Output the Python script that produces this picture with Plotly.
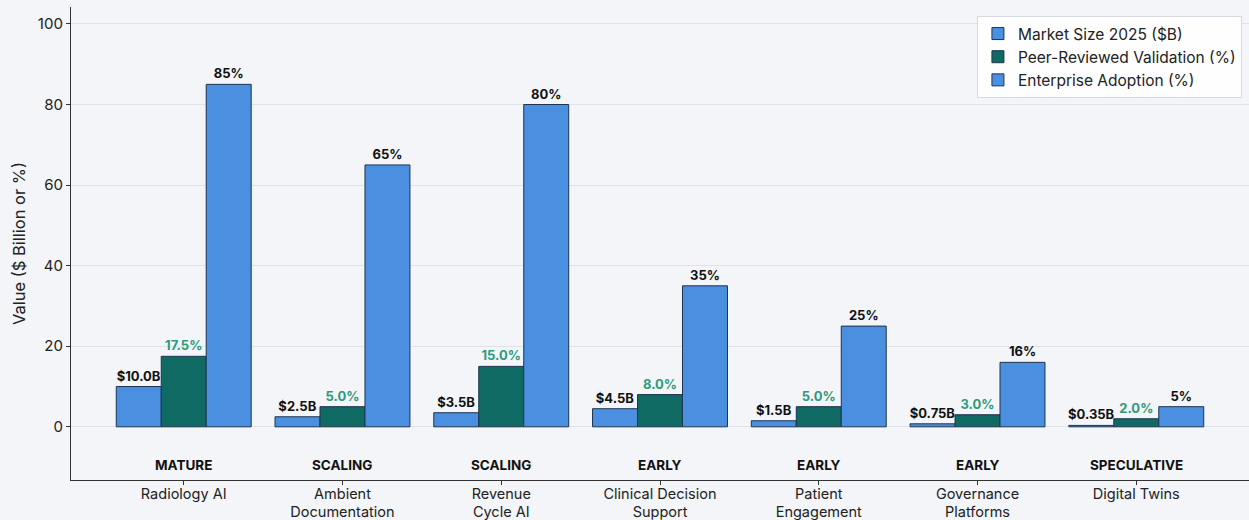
import plotly.graph_objects as go

categories = ["Radiology AI", "Ambient<br>Documentation", "Revenue<br>Cycle AI",
              "Clinical Decision<br>Support", "Patient<br>Engagement",
              "Governance<br>Platforms", "Digital Twins"]
stages = ["MATURE", "SCALING", "SCALING", "EARLY", "EARLY", "EARLY", "SPECULATIVE"]
market_size = [10.0, 2.5, 3.5, 4.5, 1.5, 0.75, 0.35]
validation = [17.5, 5.0, 15.0, 8.0, 5.0, 3.0, 2.0]
adoption = [85, 65, 80, 35, 25, 16, 5]

BLUE = "#4A8FE0"
TEAL = "#0E6A62"
EDGE = "#1E3550"
GREEN_TXT = "#2F9A7A"
FONT = "Inter"

x = list(range(len(categories)))

series = [
    ("Market Size 2025 ($B)", market_size, BLUE, [f"${v}B" for v in market_size], "#111111"),
    ("Peer-Reviewed Validation (%)", validation, TEAL, [f"{v:.1f}%" for v in validation], GREEN_TXT),
    ("Enterprise Adoption (%)", adoption, BLUE, [f"{v:.0f}%" for v in adoption], "#111111"),
]

fig = go.Figure()
for name, vals, color, labels, txt_color in series:
    fig.add_trace(go.Bar(
        x=x, y=vals, name=name,
        marker=dict(color=color, line=dict(color=EDGE, width=1)),
        text=labels, textposition="outside",
        textfont=dict(family=FONT, size=13, color=txt_color, weight="bold"),
        constraintext="none", cliponaxis=False,
    ))

for i, s in enumerate(stages):
    fig.add_annotation(x=i, y=-9.5, text=f"<b>{s}</b>", showarrow=False,
                       font=dict(family=FONT, size=13.5, color="#111111"))

fig.update_layout(
    width=1249, height=520,
    margin=dict(l=71, r=0, t=7, b=40),
    paper_bgcolor="#F3F5F8", plot_bgcolor="#F3F5F8",
    barmode="group", bargap=0.15, bargroupgap=0,
    font=dict(family=FONT, size=15, color="#222222"),
    legend=dict(x=0.994, y=0.981, xanchor="right", yanchor="top",
                bgcolor="rgba(255,255,255,0.85)", bordercolor="#D6D9DE", borderwidth=1,
                font=dict(family=FONT, size=15.5, color="#222222"),
                itemwidth=30),
    xaxis=dict(tickvals=x, ticktext=categories, range=[-0.71, 6.71], automargin=False,
               showgrid=False, zeroline=False, showline=True, linecolor="#333333",
               linewidth=1.2, ticks="outside", ticklen=4, tickcolor="#333333",
               ticklabelstandoff=-4,
               tickfont=dict(family=FONT, size=14.5, color="#222222")),
    yaxis=dict(range=[-13.2, 104.2], tickvals=[0, 20, 40, 60, 80, 100], automargin=False,
               showgrid=True, gridcolor="#DFE2E7", gridwidth=1, zeroline=False,
               showline=True, linecolor="#333333", linewidth=1.2,
               ticks="outside", ticklen=4, tickcolor="#333333",
               tickfont=dict(family=FONT, size=15, color="#222222"),
               title=dict(text="Value ($ Billion or %)", standoff=8,
                          font=dict(family=FONT, size=16.5, color="#222222"))),
)

fig.write_html("out.html")
